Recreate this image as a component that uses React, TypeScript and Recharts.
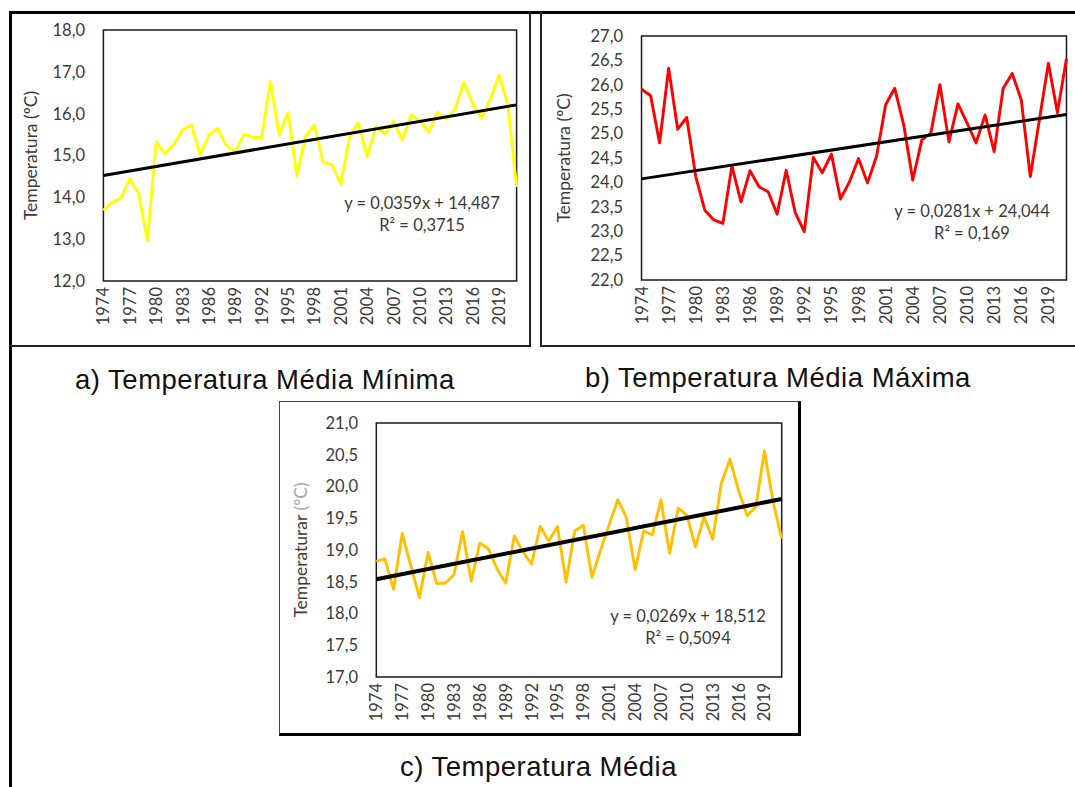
import React from 'react';
import { LineChart, Line, XAxis, YAxis, ReferenceArea } from 'recharts';

const years = [
  '1974', '1975', '1976', '1977', '1978', '1979', '1980', '1981', '1982', '1983',
  '1984', '1985', '1986', '1987', '1988', '1989', '1990', '1991', '1992', '1993',
  '1994', '1995', '1996', '1997', '1998', '1999', '2000', '2001', '2002', '2003',
  '2004', '2005', '2006', '2007', '2008', '2009', '2010', '2011', '2012', '2013',
  '2014', '2015', '2016', '2017', '2018', '2019', '2020', '2021',
];

const tempMinValues = [
  13.69, 13.88, 13.98, 14.44, 14.10, 12.97, 15.33, 15.04, 15.26, 15.61,
  15.73, 15.02, 15.49, 15.65, 15.23, 15.10, 15.51, 15.43, 15.43, 16.77,
  15.49, 16.03, 14.52, 15.45, 15.73, 14.84, 14.78, 14.31, 15.45, 15.78,
  14.98, 15.69, 15.51, 15.82, 15.37, 15.97, 15.83, 15.56, 16.03, 15.87,
  16.11, 16.75, 16.24, 15.90, 16.34, 16.92, 16.22, 14.25,
];

const tempMaxValues = [
  25.91, 25.78, 24.81, 26.34, 25.09, 25.33, 24.12, 23.43, 23.23, 23.16,
  24.34, 23.60, 24.24, 23.91, 23.81, 23.35, 24.25, 23.38, 22.99, 24.51,
  24.20, 24.58, 23.66, 24.01, 24.49, 23.99, 24.54, 25.59, 25.93, 25.18,
  24.05, 24.87, 25.01, 26.00, 24.83, 25.61, 25.22, 24.81, 25.38, 24.63,
  25.93, 26.23, 25.69, 24.12, 25.28, 26.44, 25.43, 26.54,
];

const tempMeanValues = [
  18.82, 18.86, 18.38, 19.26, 18.75, 18.25, 18.96, 18.47, 18.48, 18.61,
  19.29, 18.51, 19.11, 19.02, 18.70, 18.48, 19.22, 18.97, 18.78, 19.37,
  19.14, 19.37, 18.50, 19.30, 19.39, 18.57, 19.00, 19.40, 19.79, 19.51,
  18.69, 19.30, 19.24, 19.79, 18.95, 19.66, 19.55, 19.05, 19.52, 19.17,
  20.05, 20.43, 19.94, 19.54, 19.68, 20.56, 19.76, 19.18,
];

const tempMinTicks = [12, 13, 14, 15, 16, 17, 18];
const tempMaxTicks = [22, 22.5, 23, 23.5, 24, 24.5, 25, 25.5, 26, 26.5, 27];
const tempMeanTicks = [17, 17.5, 18, 18.5, 19, 19.5, 20, 20.5, 21];

const tempMinTrend = { slope: 0.0359, intercept: 14.487, equation: 'y = 0,0359x + 14,487', r2: 'R² = 0,3715' };
const tempMaxTrend = { slope: 0.0281, intercept: 24.044, equation: 'y = 0,0281x + 24,044', r2: 'R² = 0,169' };
const tempMeanTrend = { slope: 0.0269, intercept: 18.512, equation: 'y = 0,0269x + 18,512', r2: 'R² = 0,5094' };

const captions = ['a) Temperatura Média Mínima', 'b) Temperatura Média Máxima', 'c) Temperatura Média'];

const FONT = 'Lato, "Open Sans", sans-serif';
const TEXT = '#3a3a3a';
const TICK_SIZE = 16.5;

function buildRows(values: number[], trend: { slope: number; intercept: number }) {
  const last = values.length - 1;
  return years.map((year, i) => ({
    year,
    value: values[i],
    trend: i === 0 || i === last ? trend.intercept + trend.slope * (i + 1) : null,
  }));
}

const fmt = (v: number) => v.toFixed(1).replace('.', ',');

const YearTick = (props: any) => {
  const { x, y, payload } = props;
  return (
    <text
      x={x}
      y={y}
      transform={`rotate(-90, ${x}, ${y})`}
      textAnchor="end"
      dominantBaseline="central"
      fill={TEXT}
      fontSize={TICK_SIZE}
      fontFamily={FONT}
    >
      {payload.value}
    </text>
  );
};

type ChartProps = {
  values: number[];
  ticks: number[];
  color: string;
  trend: { slope: number; intercept: number; equation: string; r2: string };
  title: string;
  titleExtra?: string;
  left: number;
  top: number;
  width: number;
  height: number;
  yAxisWidth: number;
  xAxisHeight: number;
  marginTop: number;
  marginRight: number;
  titleX: number;
  eqX: number;
  eqY: number;
  trendWidth: number;
};

function TempChart(p: ChartProps) {
  const rows = buildRows(p.values, p.trend);
  const yMin = p.ticks[0];
  const yMax = p.ticks[p.ticks.length - 1];
  const plotW = p.width - p.yAxisWidth - p.marginRight;
  const pad = plotW / (years.length * 2);
  const renderTitle = (lp: any) => {
    const vb = lp.viewBox || {};
    const cx = (vb.x || 0) + p.titleX;
    const cy = (vb.y || 0) + (vb.height || 0) / 2;
    return (
      <text
        x={cx}
        y={cy}
        transform={`rotate(-90, ${cx}, ${cy})`}
        textAnchor="middle"
        dominantBaseline="central"
        fontSize={17.5}
        fontFamily={FONT}
        fill={TEXT}
      >
        {p.title}
        {p.titleExtra ? <tspan fill="#a6a6a6">{p.titleExtra}</tspan> : null}
      </text>
    );
  };
  return (
    <div style={{ position: 'absolute', left: p.left, top: p.top, width: p.width, height: p.height }}>
      <LineChart
        width={p.width}
        height={p.height}
        data={rows}
        margin={{ top: p.marginTop, right: p.marginRight, left: 0, bottom: 0 }}
      >
        <XAxis
          dataKey="year"
          type="category"
          interval={2}
          tickLine={false}
          axisLine={false}
          tickSize={0}
          tickMargin={6}
          height={p.xAxisHeight}
          padding={{ left: pad, right: pad }}
          tick={<YearTick />}
        />
        <YAxis
          type="number"
          domain={[yMin, yMax]}
          ticks={p.ticks}
          interval={0}
          tickFormatter={fmt}
          width={p.yAxisWidth}
          tickLine={false}
          axisLine={false}
          tickSize={0}
          tickMargin={14}
          tick={{ fill: TEXT, fontSize: TICK_SIZE, fontFamily: FONT }}
          label={{ content: renderTitle }}
        />
        <ReferenceArea y1={yMin} y2={yMax} fill="none" fillOpacity={0} stroke="#1a1a1a" strokeWidth={1.5} ifOverflow="visible" />
        <Line
          dataKey="value"
          stroke={p.color}
          strokeWidth={2.9}
          dot={false}
          activeDot={false}
          isAnimationActive={false}
          strokeLinejoin="round"
        />
        <Line
          dataKey="trend"
          stroke="#000000"
          strokeWidth={p.trendWidth}
          dot={false}
          activeDot={false}
          connectNulls
          isAnimationActive={false}
        />
      </LineChart>
      <div
        style={{
          position: 'absolute',
          left: p.eqX - p.left - 130,
          top: p.eqY - p.top - 11,
          width: 260,
          textAlign: 'center',
          fontFamily: FONT,
          fontSize: 16.5,
          lineHeight: '22px',
          color: TEXT,
        }}
      >
        <div>{p.trend.equation}</div>
        <div>{p.trend.r2}</div>
      </div>
    </div>
  );
}

const captionStyle: React.CSSProperties = {
  position: 'absolute',
  fontFamily: '"Liberation Sans", Arial, sans-serif',
  fontSize: 27.5,
  letterSpacing: 0.5,
  lineHeight: '30px',
  color: '#111',
  whiteSpace: 'nowrap',
};

export default function App() {
  return (
    <div style={{ position: 'absolute', left: 0, top: 0, width: 1075, height: 787, background: '#fff', overflow: 'hidden' }}>
      {/* frames */}
      <div style={{ position: 'absolute', left: 9, top: 11, width: 1066, height: 3, background: '#000' }} />
      <div style={{ position: 'absolute', left: 9, top: 11, width: 3, height: 776, background: '#000' }} />
      <div style={{ position: 'absolute', left: 9, top: 345, width: 522, height: 2, background: '#222' }} />
      <div style={{ position: 'absolute', left: 529, top: 11, width: 2, height: 336, background: '#222' }} />
      <div style={{ position: 'absolute', left: 540, top: 11, width: 2, height: 336, background: '#222' }} />
      <div style={{ position: 'absolute', left: 540, top: 345, width: 535, height: 2, background: '#222' }} />
      <div
        style={{
          position: 'absolute',
          left: 279,
          top: 401,
          width: 518,
          height: 331,
          borderLeft: '1px solid #444',
          borderTop: '1px solid #444',
          borderRight: '3px solid #000',
          borderBottom: '3px solid #000',
        }}
      />

      <TempChart
        values={tempMinValues}
        ticks={tempMinTicks}
        color="#FFFF00"
        trend={tempMinTrend}
        title="Temperatura (ºC)"
        left={12}
        top={14}
        width={517}
        height={331}
        yAxisWidth={87}
        xAxisHeight={64}
        marginTop={16}
        marginRight={8}
        titleX={18}
        eqX={422}
        eqY={203}
        trendWidth={3}
      />
      <TempChart
        values={tempMaxValues}
        ticks={tempMaxTicks}
        color="#FF0000"
        trend={tempMaxTrend}
        title="Temperatura (ºC)"
        left={542}
        top={14}
        width={533}
        height={331}
        yAxisWidth={95}
        xAxisHeight={65}
        marginTop={22}
        marginRight={4}
        titleX={21}
        eqX={972}
        eqY={211}
        trendWidth={3}
      />
      <TempChart
        values={tempMeanValues}
        ticks={tempMeanTicks}
        color="#FFC000"
        trend={tempMeanTrend}
        title="Temperaturar "
        titleExtra="(ºC)"
        left={280}
        top={402}
        width={517}
        height={330}
        yAxisWidth={92}
        xAxisHeight={55}
        marginTop={21}
        marginRight={11}
        titleX={20}
        eqX={688}
        eqY={616}
        trendWidth={4}
      />

      <div style={{ ...captionStyle, left: 75, top: 365 }}>{captions[0]}</div>
      <div style={{ ...captionStyle, left: 585, top: 363 }}>{captions[1]}</div>
      <div style={{ ...captionStyle, left: 400, top: 752 }}>{captions[2]}</div>
    </div>
  );
}
